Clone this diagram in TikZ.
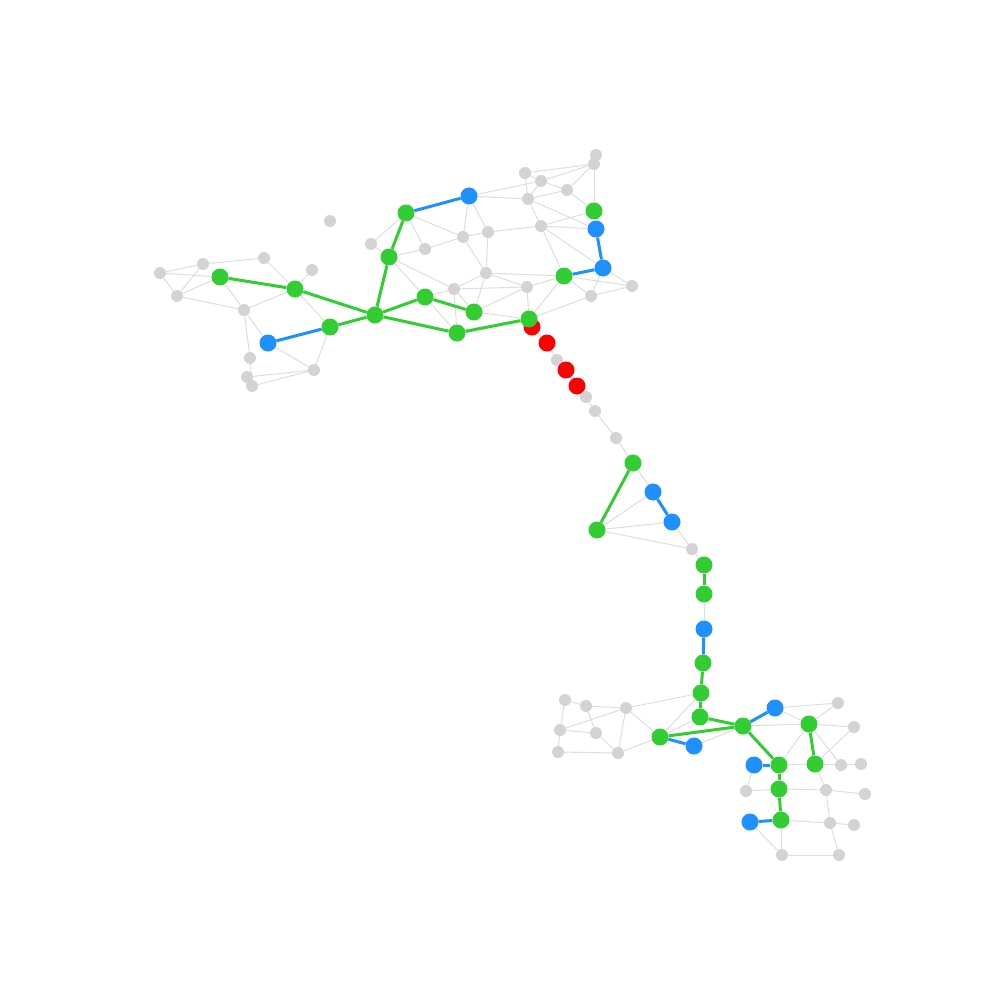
\documentclass[tikz,border=0pt]{standalone}
\usetikzlibrary{backgrounds}
\definecolor{ngreen}{RGB}{50,205,50}
\definecolor{nblue}{RGB}{30,144,255}
\definecolor{nred}{RGB}{255,0,0}
\definecolor{ngray}{RGB}{211,211,211}
\definecolor{egray}{RGB}{222,222,222}
\tikzset{
  base/.style={circle,inner sep=0pt,draw=none},
  gy/.style={base,fill=ngray,minimum size=12pt},
  gn/.style={base,fill=ngreen,minimum size=17pt},
  bn/.style={base,fill=nblue,minimum size=17pt},
  rn/.style={base,fill=nred,minimum size=17pt},
  ge/.style={draw=egray,line width=1pt},
  gre/.style={draw=ngreen,line width=3pt},
  ble/.style={draw=nblue,line width=3pt},
}
\begin{document}
\begin{tikzpicture}[x=1pt,y=-1pt]
\useasboundingbox (0,0) rectangle (1000,1000);
% top-left
\node[gy] (a1) at (160,273) {};
\node[gy] (a2) at (203,264) {};
\node[gn] (A) at (220,277) {};
\node[gy] (a3) at (264,258) {};
\node[gy] (a4) at (177,296) {};
\node[gy] (a5) at (312,270) {};
\node[gn] (B) at (295,289) {};
\node[gy] (a6) at (244,310) {};
\node[bn] (Ba) at (268,343) {};
\node[gn] (C) at (330,327) {};
\node[gy] (a7) at (250,358) {};
\node[gy] (a8) at (247,377) {};
\node[gy] (a9) at (252,386) {};
\node[gy] (a10) at (314,370) {};
% top-mid
\node[gy] (a11) at (330,221) {};
\node[gn] (E) at (406,213) {};
\node[bn] (Bb) at (469,196) {};
\node[gy] (a12) at (371,244) {};
\node[gn] (F) at (389,257) {};
\node[gy] (a13) at (425,249) {};
\node[gy] (a14) at (463,237) {};
\node[gy] (a15) at (488,232) {};
\node[gy] (a16) at (486,273) {};
\node[gy] (a17) at (454,289) {};
\node[gn] (D) at (375,315) {};
\node[gn] (G) at (425,297) {};
\node[gn] (H) at (474,312) {};
\node[gn] (I) at (457,333) {};
% top-right
\node[gy] (a18) at (525,173) {};
\node[gy] (a19) at (541,181) {};
\node[gy] (a20) at (528,199) {};
\node[gy] (a21) at (567,190) {};
\node[gy] (a22) at (596,155) {};
\node[gy] (a23) at (594,164) {};
\node[gn] (L) at (594,211) {};
\node[bn] (Bc) at (596,229) {};
\node[gy] (a24) at (541,226) {};
\node[bn] (Bd) at (603,268) {};
\node[gn] (K) at (564,276) {};
\node[gy] (a25) at (527,287) {};
\node[gy] (a26) at (591,296) {};
\node[gy] (a27) at (632,286) {};
% chain
\node[rn] (R1) at (532,327) {};
\node[gn] (J) at (529,319) {};
\node[rn] (R2) at (547,343) {};
\node[gy] (c1) at (557,360) {};
\node[rn] (R3) at (566,370) {};
\node[rn] (R4) at (577,386) {};
\node[gy] (c2) at (586,397) {};
\node[gy] (c3) at (595,411) {};
\node[gy] (c4) at (616,438) {};
\node[gn] (M) at (633,463) {};
\node[bn] (Be) at (653,492) {};
\node[bn] (Bf) at (672,522) {};
\node[gn] (N) at (597,530) {};
\node[gy] (c5) at (692,549) {};
\node[gn] (O) at (704,565) {};
\node[gn] (P) at (704,594) {};
\node[bn] (Bg) at (704,629) {};
\node[gn] (Q) at (703,663) {};
\node[gn] (Rr) at (701,693) {};
\node[gn] (S) at (700,717) {};
% bottom-left
\node[gy] (d1) at (565,700) {};
\node[gy] (d2) at (586,706) {};
\node[gy] (d3) at (626,708) {};
\node[gy] (d4) at (560,730) {};
\node[gy] (d5) at (596,733) {};
\node[gy] (d6) at (558,752) {};
\node[gy] (d7) at (618,753) {};
\node[gn] (T) at (660,737) {};
\node[bn] (Bh) at (694,746) {};
\node[gn] (U) at (743,726) {};
% bottom-right
\node[bn] (Bi) at (775,708) {};
\node[gy] (e1) at (838,703) {};
\node[gn] (V) at (809,724) {};
\node[gy] (e2) at (854,727) {};
\node[bn] (Bj) at (754,765) {};
\node[gn] (W) at (779,765) {};
\node[gn] (X) at (815,764) {};
\node[gy] (e3) at (841,765) {};
\node[gy] (e4) at (861,764) {};
\node[gy] (e5) at (746,791) {};
\node[gn] (Y) at (779,789) {};
\node[gy] (e6) at (826,790) {};
\node[gy] (e7) at (865,794) {};
\node[bn] (Bk) at (750,822) {};
\node[gn] (Z) at (781,820) {};
\node[gy] (e8) at (830,823) {};
\node[gy] (e9) at (854,825) {};
\node[gy] (e10) at (782,855) {};
\node[gy] (e11) at (839,855) {};
\begin{pgfonlayer}{background}
\fill[white] (0,0) rectangle (1000,1000);
% gray edges
\foreach \u/\v in {a1/a2,a1/A,a2/a4,a1/a4,a2/a3,a4/A,a4/a6,A/a6,a3/B,a5/B,B/a6,B/C,a6/Ba,a6/a7,Ba/a10,C/a10,a7/a9,a8/a10,a9/a10,
  E/a12,E/a13,E/a14,a12/F,F/a13,a13/a14,Bb/a14,Bb/a15,a14/a15,a14/a16,a15/a16,F/a17,F/G,a16/a17,a16/H,a17/G,a17/H,a17/I,G/I,a17/a25,a16/K,a16/a25,a15/a24,H/a25,H/J,
  Bb/a19,Bb/a20,a18/a23,a18/a19,a18/a20,a19/a20,a19/a21,a19/a23,a21/a23,a22/a23,a23/L,a21/L,a20/a21,a20/Bc,a20/a24,a24/L,a24/Bc,a24/K,a24/Bd,Bd/a26,Bd/a27,a26/a27,K/a26,K/a27,a25/K,a25/J,J/K,J/a26,
  J/R1,R1/R2,R2/c1,c1/R3,R3/R4,R4/c2,c2/c3,c3/c4,c4/M,M/Be,Bf/c5,c5/O,N/Be,N/Bf,N/c5,P/Bg,
  d1/d2,d1/d4,d2/d3,d2/d5,d4/d5,d4/d3,d4/d6,d6/d7,d5/d7,d3/d7,d3/T,d7/T,d3/Rr,T/Rr,T/S,Bh/U,
  U/V,Bi/e1,Bi/V,V/e1,V/e2,V/W,V/e3,e2/X,W/X,X/e3,e3/e4,X/e6,Bj/e5,e5/Y,Y/e6,e6/e7,e6/e8,Bk/e10,Z/e10,Z/e8,e8/e9,e8/e11,e10/e11}
  {\draw[ge] (\u) -- (\v);}
% green edges
\foreach \u/\v in {A/B,B/D,C/D,D/F,F/E,D/G,G/H,D/I,I/J,M/N,O/P,Q/Rr,Rr/S,S/U,T/U,U/W,W/Y,Y/Z,V/X}
  {\draw[gre] (\u) -- (\v);}
% blue edges
\foreach \u/\v in {Ba/C,E/Bb,Bc/Bd,K/Bd,Be/Bf,Bg/Q,T/Bh,U/Bi,Bj/W,Bk/Z}
  {\draw[ble] (\u) -- (\v);}
\end{pgfonlayer}
\end{tikzpicture}
\end{document}
